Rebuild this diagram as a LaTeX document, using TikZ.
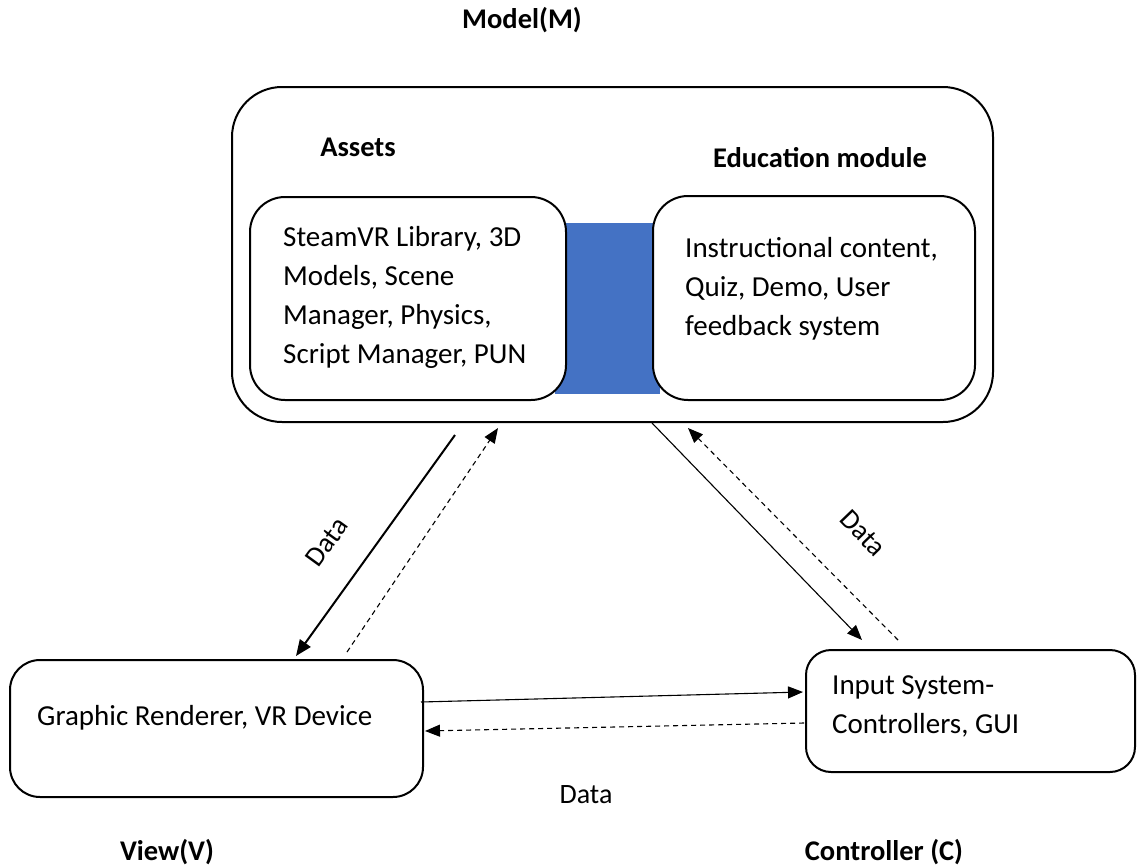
\documentclass[tikz,border=0pt]{standalone}
\usepackage{fontspec}
\setmainfont{Carlito}
\usetikzlibrary{arrows.meta}
\definecolor{mvcblue}{HTML}{4472C4}
\begin{document}
\begin{tikzpicture}[x=1pt,y=-1pt,
  box/.style={draw=black,line width=2pt,rounded corners=#1,inner sep=0pt},
  box/.default=35pt,
  txt/.style={font=\fontsize{29}{39}\selectfont,align=left,inner sep=0pt},
  ttl/.style={font=\fontsize{28.5}{32}\selectfont\bfseries,inner sep=0pt},
  lbl/.style={font=\fontsize{28}{32}\selectfont,inner sep=0pt},
  solidarrow/.style={line width=2pt,-{Triangle[length=16pt,width=13pt]}},
  thinarrow/.style={line width=1.1pt,-{Triangle[length=15pt,width=12pt]}},
  dasharrow/.style={line width=1.1pt,dash pattern=on 5pt off 4pt,-{Triangle[length=15pt,width=12pt]}}
]
\useasboundingbox (0,0) rectangle (1137,867);
% titles
\node[ttl] (tm) at (522,20) {Model(M)};
\node[ttl] (tv) at (167,852) {View(V)};
\node[ttl] (tc) at (884,852) {Controller (C)};
% model
\node[box=50pt,minimum width=761pt,minimum height=335pt] (model) at (612.5,254.5) {};
\node[ttl] (assets) at (358,147) {Assets};
\node[ttl] (edu) at (820,158) {Education module};
\node[fill=mvcblue,inner sep=0pt,minimum width=105pt,minimum height=171pt] (link) at (607.5,308.5) {};
\node[box,fill=white,minimum width=316pt,minimum height=203pt] (assetbox) at (408,298.5) {};
\node[box,fill=white,minimum width=322pt,minimum height=204pt] (edubox) at (814,298) {};
\node[txt,anchor=west] (assettxt) at (283,297) {SteamVR Library, 3D\\Models, Scene\\Manager, Physics,\\Script Manager, PUN};
\node[txt,anchor=west] (edutxt) at (685,289) {Instructional content,\\Quiz, Demo, User\\feedback system};
% view and controller
\node[box=30pt,minimum width=413pt,minimum height=137pt] (view) at (216.5,728.5) {};
\node[txt,anchor=west] (viewtxt) at (37,718) {Graphic Renderer, VR Device};
\node[box=25pt,minimum width=329pt,minimum height=122pt] (ctrl) at (970.5,711) {};
\node[txt,anchor=west] (ctrltxt) at (832,706) {Input System-\\Controllers, GUI};
% connector end points
\coordinate (a1) at (455,435);
\coordinate (a2) at (296,656);
\coordinate (b1) at (347,652);
\coordinate (b2) at (498,428);
\coordinate (c1) at (652,423);
\coordinate (c2) at (862,640);
\coordinate (d1) at (898,640);
\coordinate (d2) at (688,428);
\coordinate (e1) at (421,702);
\coordinate (e2) at (803,692);
\coordinate (f1) at (804,723);
\coordinate (f2) at (425,731);
\draw[solidarrow] (a1) -- (a2);
\draw[dasharrow] (b1) -- (b2);
\draw[thinarrow] (c1) -- (c2);
\draw[dasharrow] (d1) -- (d2);
\draw[thinarrow] (e1) -- (e2);
\draw[dasharrow] (f1) -- (f2);
\node[lbl,rotate=54] (data1) at (327,542) {Data};
\node[lbl,rotate=-46] (data2) at (863,533) {Data};
\node[lbl] (data3) at (586,795) {Data};
\end{tikzpicture}
\end{document}
